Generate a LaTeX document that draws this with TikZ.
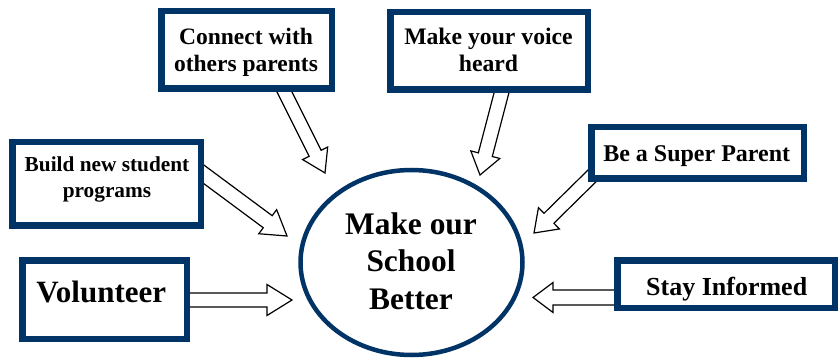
\documentclass[tikz,border=0pt]{standalone}
\usepackage{fontspec}
\setmainfont{Liberation Serif}
\usetikzlibrary{calc,shapes.geometric}
\definecolor{navy}{RGB}{0,51,102}
\newcommand\hollowarrow[5]{%
  \path ($(#2)!#5!(#1)$) coordinate (tmpC);
  \draw[harrow] ($(#1)!#3!90:(#2)$) -- ($(tmpC)!#3!-90:(#1)$) -- ($(tmpC)!#4!-90:(#1)$) -- (#2)
     -- ($(tmpC)!#4!90:(#1)$) -- ($(tmpC)!#3!90:(#1)$) -- ($(#1)!#3!-90:(#2)$) -- cycle;}
\tikzset{
  box/.style={draw=navy, line width=6.5pt, fill=white, rectangle, inner sep=0pt},
  harrow/.style={draw=black, line width=1.2pt, fill=white, line join=miter},
  lbl/.style={anchor=base, inner sep=0pt, font=\bfseries},
}
\begin{document}
\begin{tikzpicture}[x=1pt,y=-1pt]
\useasboundingbox[fill=white] (0,0) rectangle (838,358);
% arrows (drawn first, boxes overlay their starts)
\coordinate (a1s) at (282.5,88); \coordinate (a1e) at (325,173);
\coordinate (a2s) at (502.5,89); \coordinate (a2e) at (480,175);
\coordinate (a3s) at (198,170);  \coordinate (a3e) at (287,236);
\coordinate (a4s) at (186,300);  \coordinate (a4e) at (292,300);
\coordinate (a5s) at (598,170);  \coordinate (a5e) at (534,233);
\coordinate (a6s) at (618,297.5);  \coordinate (a6e) at (533,297.5);
\hollowarrow{a1s}{a1e}{6.7pt}{14pt}{22pt}
\hollowarrow{a2s}{a2e}{7.2pt}{15pt}{21pt}
\hollowarrow{a3s}{a3e}{7.5pt}{15pt}{24pt}
\hollowarrow{a4s}{a4e}{7pt}{15.5pt}{25pt}
\hollowarrow{a5s}{a5e}{7pt}{15pt}{21pt}
\hollowarrow{a6s}{a6e}{7.5pt}{15pt}{20pt}
% boxes
\node[box, minimum width=170.5pt, minimum height=77.5pt] (conn) at (246.5,50) {};
\node[box, minimum width=197.5pt, minimum height=77.5pt] (voice) at (489,51) {};
\node[box, minimum width=188.5pt, minimum height=83.5pt] (build) at (106.5,184) {};
\node[box, minimum width=164.5pt, minimum height=78.5pt] (vol) at (104.5,299.5) {};
\node[box, minimum width=212.5pt, minimum height=51.5pt] (super) at (697.5,153) {};
\node[box, minimum width=217.5pt, minimum height=47.5pt] (stay) at (726,284) {};
\node[draw=navy, line width=4.5pt, ellipse, inner sep=0pt, minimum width=222pt, minimum height=185pt] (goal) at (411.5,262.5) {};
% texts
\node[lbl] (connT) at (246,45) {\fontsize{23.5}{27}\selectfont\begin{tabular}[t]{@{}c@{}}Connect with\\others parents\end{tabular}};
\node[lbl] (voiceT) at (488.5,45) {\fontsize{23.7}{27}\selectfont\begin{tabular}[t]{@{}c@{}}Make your voice\\heard\end{tabular}};
\node[lbl] (buildT) at (107,172) {\fontsize{21.3}{26}\selectfont\begin{tabular}[t]{@{}c@{}}Build new student\\programs\end{tabular}};
\node[lbl] (volT) at (101.3,302) {\fontsize{31}{36}\selectfont Volunteer};
\node[lbl] (superT) at (696.7,162) {\fontsize{24}{28}\selectfont Be a Super Parent};
\node[lbl] (stayT) at (726.7,295) {\fontsize{26}{30}\selectfont Stay Informed};
\node[lbl] (goalT) at (411,235) {\fontsize{31.4}{37}\selectfont\begin{tabular}[t]{@{}c@{}}Make our\\School\\Better\end{tabular}};
\end{tikzpicture}
\end{document}
